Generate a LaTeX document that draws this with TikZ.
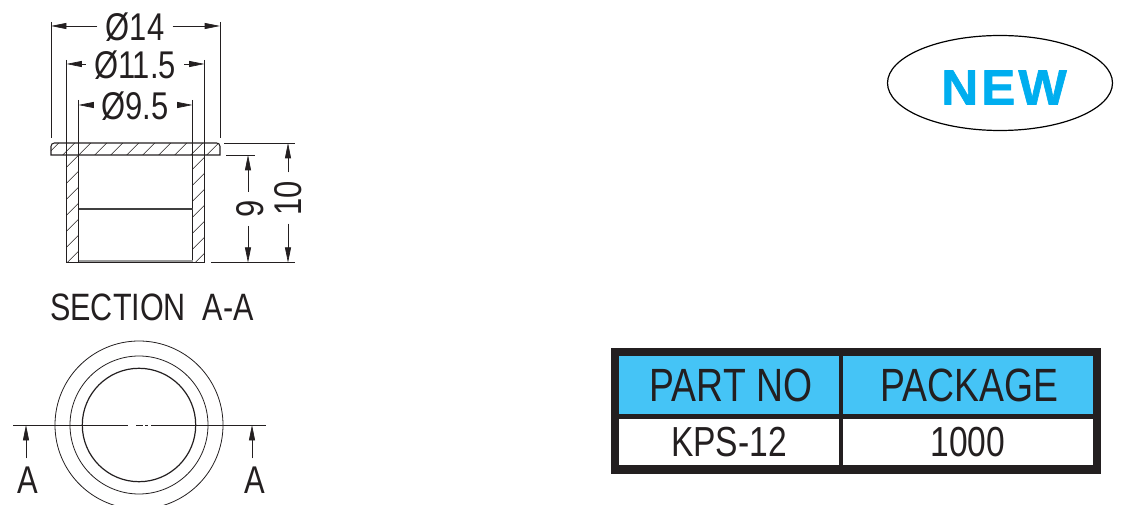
\documentclass[tikz,border=0pt]{standalone}
\usepackage{fontspec}
\setmainfont{Liberation Sans}
\newfontfamily\narrowfont[FakeStretch=0.8]{Liberation Sans}
\newfontfamily\badgefont[FakeStretch=1.04,FakeBold=1.2,LetterSpace=6]{Liberation Sans}
\newcommand*{\dimfont}{\narrowfont\fontsize{29}{31}\selectfont}
\definecolor{headblue}{HTML}{45C4F6}
\definecolor{newblue}{HTML}{00AEEF}
\definecolor{inkgrey}{HTML}{231F20}
\usetikzlibrary{arrows.meta}
\usetikzlibrary{shapes.geometric}
\tikzstyle{base}=[x=0.75pt, y=-0.75pt, inkgrey, line width=0.6pt]
\tikzstyle{dimtext}=[font=\dimfont, inner sep=6pt, text=inkgrey]
\tikzstyle{dimline}=[-{Stealth[length=11.5pt,width=4.5pt,inset=0pt]}, inkgrey, line width=0.5pt]
\tikzstyle{extline}=[inkgrey, line width=0.5pt]
\tikzstyle{headcell}=[fill=headblue, inner sep=0pt, minimum height=43.5pt, text=inkgrey, font=\narrowfont\fontsize{35}{37}\selectfont]
\tikzstyle{bodycell}=[fill=white, inner sep=0pt, minimum height=34.5pt, text=inkgrey, font=\narrowfont\fontsize{31.5}{33}\selectfont]

\begin{document}
\begin{tikzpicture}[base]
    \useasboundingbox (0,0) rectangle (1130,505);
    \clip (0,0) rectangle (1130,505);
    % section view
    \begin{scope}
        \clip (51,143) rectangle (220,155) (66.5,155) rectangle (78.5,263) (192.5,155) rectangle (204.5,263);
        \foreach \k in {0,...,30}
            \draw [line width=0.45pt] (201.7 + 16*\k - 143,143) -- (201.7 + 16*\k - 263,263);
    \end{scope}
    \draw [line width=0.8pt] (51,155) [rounded corners=2.5pt] -- (51,143) -- (220,143) [sharp corners] -- (220,155) -- cycle;
    \draw (66.5,155) -- (66.5,262.7) -- (204.5,262.7) -- (204.5,155);
    \draw (78.5,155) -- (78.5,262.7);
    \draw (192.5,155) -- (192.5,262.7);
    \draw [line width=0.9pt, black!75] (78.5,209) -- (192.5,209);
    \draw [line width=1.6pt, black!40] (78.5,261.4) -- (192.5,261.4);
    % extension lines
    \draw [extline] (51,22) -- (51,138);
    \draw [extline] (220,22) -- (220,138);
    \draw [extline] (66.5,60) -- (66.5,155);
    \draw [extline] (204.5,60) -- (204.5,155);
    \draw [extline] (78.5,100) -- (78.5,155);
    \draw [extline] (192.5,100) -- (192.5,155);
    \draw [extline] (224,143) -- (295,143);
    \draw [extline] (226,155) -- (255,155);
    \draw [extline] (211,262.7) -- (295,262.7);
    % diameters
    \node [dimtext] (dia14) at (135,27) {Ø14};
    \node [dimtext] (dia115) at (135,65) {Ø11.5};
    \node [dimtext] (dia95) at (135,106) {Ø9.5};
    \coordinate (dia14L) at (51,26);
    \coordinate (dia14R) at (220,26);
    \coordinate (dia115L) at (66.5,64);
    \coordinate (dia115R) at (204.5,64);
    \coordinate (dia95L) at (78.5,105);
    \coordinate (dia95R) at (192.5,105);
    \draw [dimline] (dia14.west |- dia14L) -- (dia14L);
    \draw [dimline] (dia14.east |- dia14R) -- (dia14R);
    \draw [dimline] (dia115.west |- dia115L) -- (dia115L);
    \draw [dimline] (dia115.east |- dia115R) -- (dia115R);
    \draw [dimline] (dia95.west |- dia95L) -- (dia95L);
    \draw [dimline] (dia95.east |- dia95R) -- (dia95R);
    % heights
    \node [dimtext, rotate=90] (h9) at (250,209) {9};
    \node [dimtext, rotate=90] (h10) at (288,198) {10};
    \coordinate (h9T) at (248,155);
    \coordinate (h9B) at (248,262.7);
    \coordinate (h10T) at (288,143);
    \coordinate (h10B) at (288,262.7);
    \draw [dimline] (h9.east -| h9T) -- (h9T);
    \draw [dimline] (h9.west -| h9B) -- (h9B);
    \draw [dimline] (h10) -- (h10T);
    \draw [dimline] (h10) -- (h10B);
    \node [font=\narrowfont\fontsize{28.6}{30}\selectfont, inner sep=0pt] (sect) at (152,307) {SECTION\ \ A-A};
    % top view
    \draw (139,425) circle [radius=84];
    \draw (139,425) circle [radius=69];
    \draw [line width=0.9pt] (139,425) circle [radius=56.7];
    \coordinate (cutL) at (13,425);
    \coordinate (cutR) at (266,425);
    \coordinate (cutA) at (128,425);
    \coordinate (cutB) at (136,425);
    \coordinate (cutC) at (143,425);
    \coordinate (cutD) at (145,425);
    \coordinate (cutE) at (148,425);
    \coordinate (cutF) at (151,425);
    \draw (cutL) -- (cutA);
    \draw (cutB) -- (cutC);
    \draw (cutD) -- (cutE);
    \draw (cutF) -- (cutR);
    \node [dimtext] (markL) at (27.5,480) {A};
    \node [dimtext] (markR) at (254.5,480) {A};
    \coordinate (tipL) at (26,425);
    \coordinate (tipR) at (252,425);
    \draw [dimline] (tipL |- markL.north) -- (tipL);
    \draw [dimline] (tipR |- markR.north) -- (tipR);
    % badge
    \node [draw=black, ellipse, line width=0.9pt, minimum width=168.75pt, minimum height=71.25pt, inner sep=0pt] (badge) at (1000,83) {};
    \node [text=newblue, inner sep=0pt, font=\badgefont\bfseries\fontsize{37}{40}\selectfont] (badgetext) at (1004,87.5) {NEW};
    % table
    \fill [inkgrey] (611,348) rectangle (1101,473.5);
    \node [headcell, minimum width=165pt] (partno) at (729,385) {\hspace*{3pt}PART NO};
    \node [headcell, minimum width=187.5pt] (package) at (967.7,385) {\hspace*{3pt}PACKAGE};
    \node [bodycell, minimum width=165pt] (partval) at (729,442) {KPS-12};
    \node [bodycell, minimum width=187.5pt] (packval) at (967.7,442) {1000};
\end{tikzpicture}
\end{document}
